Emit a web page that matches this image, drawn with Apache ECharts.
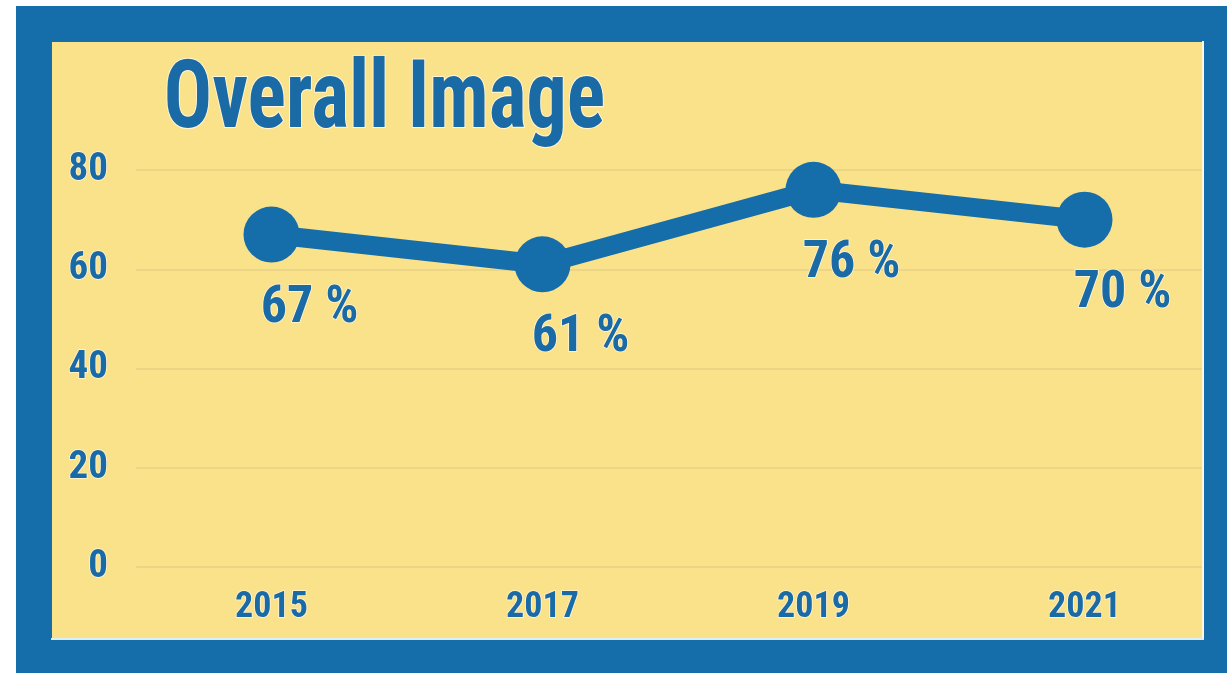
<!DOCTYPE html>
<html>
<head>
<meta charset="utf-8">
<script src="https://cdn.jsdelivr.net/npm/echarts@6/dist/echarts.min.js"></script>
<style>
  html, body { margin: 0; padding: 0; background: #ffffff; }
  #chart { width: 1227px; height: 673px; }
</style>
</head>
<body>
<div id="chart"></div>
<script>
const titleText = 'Overall Image';
const years = ['2015', '2017', '2019', '2021'];
const values = [67, 61, 76, 70];
const yTicks = [0, 20, 40, 60, 80];

const BLUE = '#156EAA';
const TEXT_BLUE = '#1A6AA6';
const YELLOW = '#FAE28A';
const FONT = '"Roboto Condensed", "Open Sans Condensed", "Noto Sans Condensed", "Liberation Sans Narrow", "DejaVu Sans Condensed", sans-serif';

const chart = echarts.init(document.getElementById('chart'));
chart.setOption({
  backgroundColor: '#ffffff',
  animation: false,
  graphic: [
    { type: 'rect', z: -10, shape: { x: 16, y: 6, width: 1211, height: 667 }, style: { fill: BLUE } },
    { type: 'rect', z: -9, shape: { x: 52, y: 42, width: 1151, height: 596 }, style: { fill: YELLOW } },
    { type: 'rect', z: 50, shape: { x: 1204, y: 6, width: 23, height: 667 }, style: { fill: BLUE } },
    { type: 'rect', z: 50, shape: { x: 1202, y: 41, width: 2, height: 598 }, style: { fill: '#FFF8E0' } },
    { type: 'rect', z: 50, shape: { x: 51, y: 638, width: 1153, height: 2 }, style: { fill: '#DDEFF5' } },
    {
      type: 'text', z: 60, left: 163, top: 55,
      scaleX: 0.87,
      scaleY: 1.03,
      style: {
        text: titleText,
        font: 'bold 92px ' + FONT,
        fill: TEXT_BLUE,
        stroke: '#FFF6D8',
        lineWidth: 2
      }
    }
  ],
  grid: { left: 136, right: 7, top: 170, bottom: 106, containLabel: false },
  xAxis: {
    type: 'category',
    data: years,
    boundaryGap: true,
    axisLine: { show: false },
    axisTick: { show: false },
    axisLabel: {
      margin: 23,
      color: TEXT_BLUE,
      fontFamily: FONT,
      fontWeight: 'bold',
      fontSize: 36,
      textBorderColor: '#FFF6D8',
      textBorderWidth: 1.5
    },
    splitLine: { show: false }
  },
  yAxis: {
    type: 'value',
    min: yTicks[0],
    max: yTicks[yTicks.length - 1],
    interval: 20,
    axisLine: { show: false },
    axisTick: { show: false },
    axisLabel: {
      margin: 28,
      color: TEXT_BLUE,
      fontFamily: FONT,
      fontWeight: 'bold',
      fontSize: 39,
      textBorderColor: '#FFF6D8',
      textBorderWidth: 1.5
    },
    splitLine: { show: true, lineStyle: { color: '#E8D087', width: 1.5 } }
  },
  series: [{
    type: 'line',
    data: values,
    symbol: 'circle',
    symbolSize: 56,
    z: 10,
    lineStyle: { color: BLUE, width: 19 },
    itemStyle: { color: BLUE },
    label: {
      show: true,
      position: 'bottom',
      distance: 8,
      offset: [38, 12],
      formatter: p => p.value + ' %',
      color: TEXT_BLUE,
      fontFamily: FONT,
      fontWeight: 'bold',
      fontSize: 52,
      textBorderColor: '#FFF6D8',
      textBorderWidth: 1.5
    }
  }]
});
</script>
</body>
</html>
